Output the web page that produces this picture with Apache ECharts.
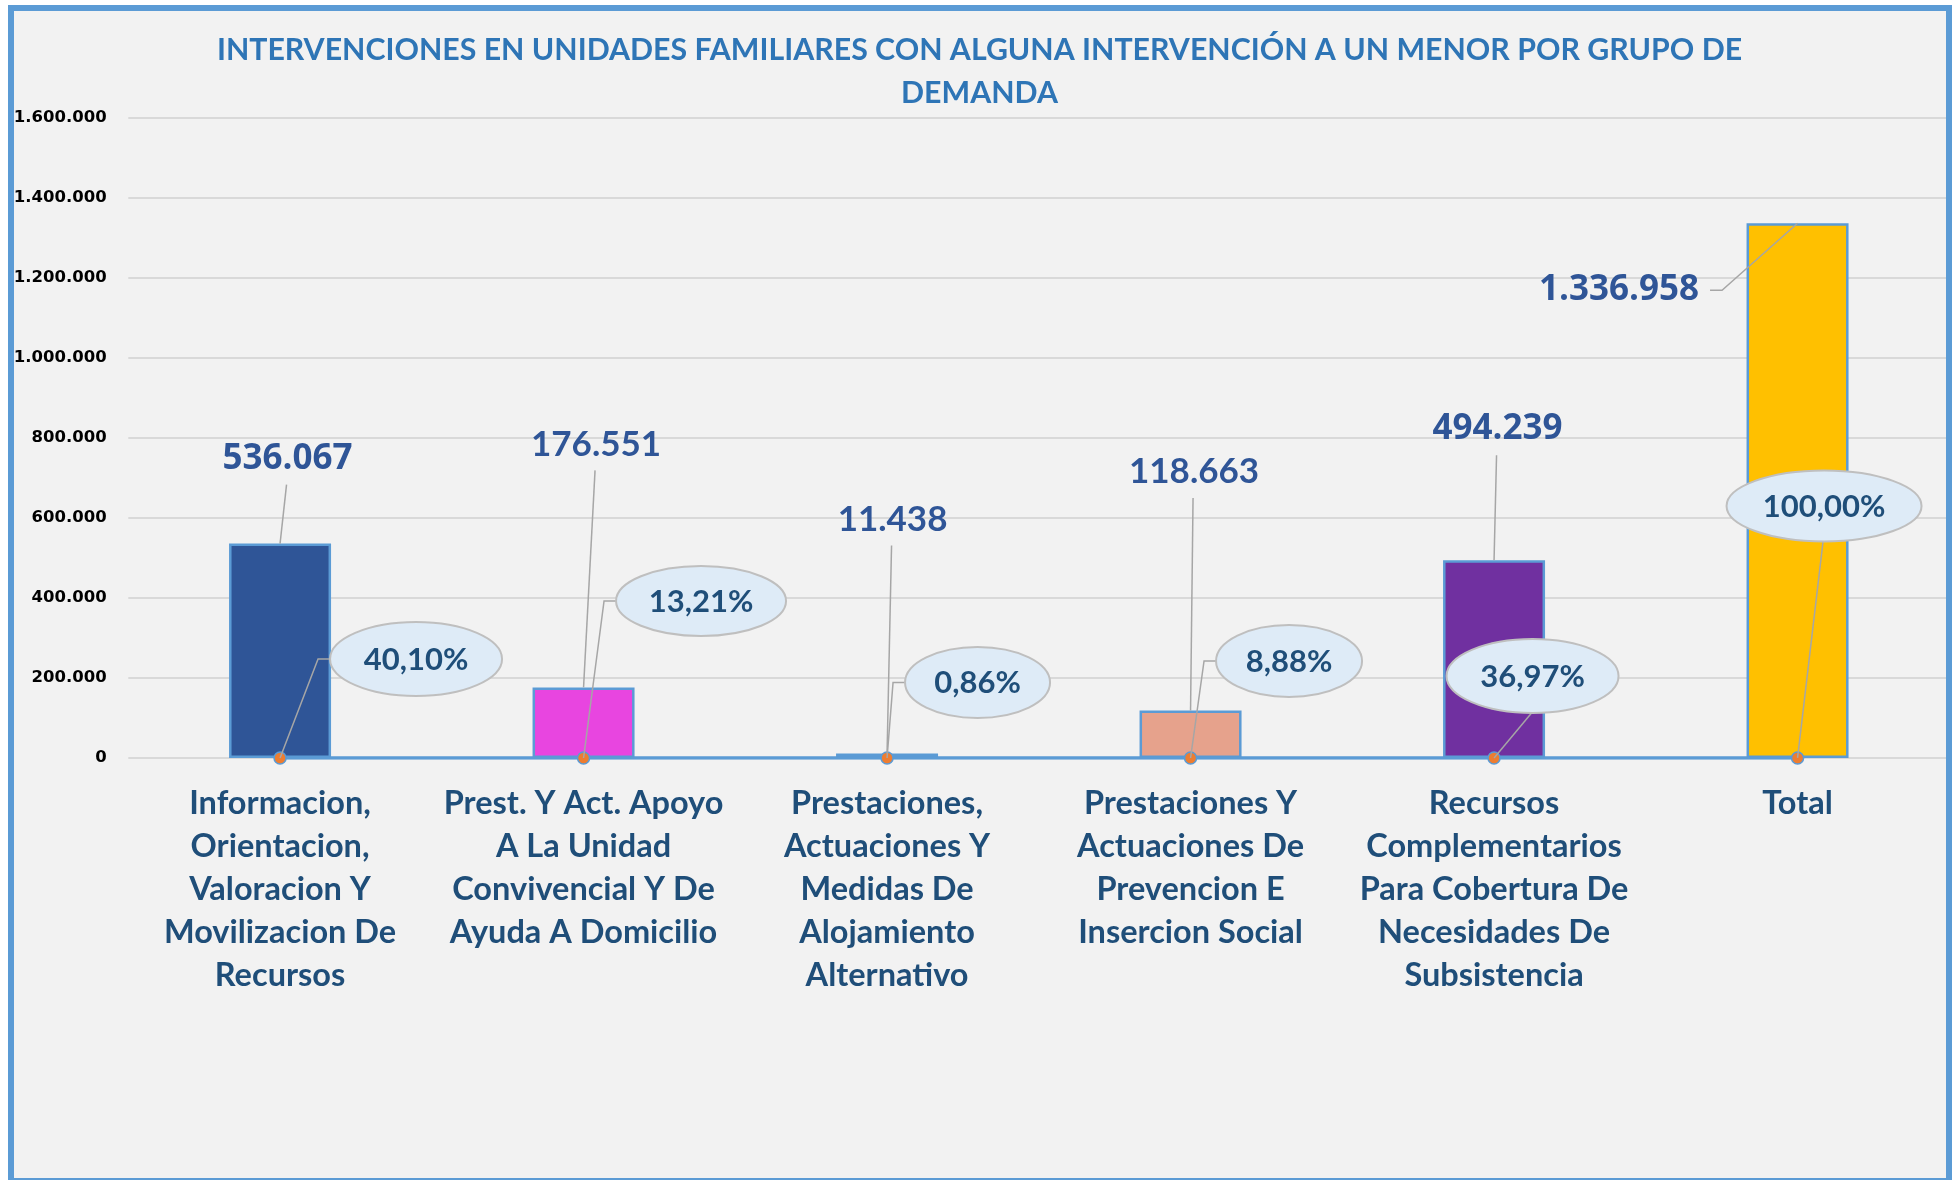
<!DOCTYPE html>
<html>
<head>
<meta charset="utf-8">
<script src="https://cdn.jsdelivr.net/npm/echarts@6/dist/echarts.min.js"></script>
<style>
html,body{margin:0;padding:0;background:#ffffff;width:1959px;height:1180px;overflow:hidden;}
#bg{position:absolute;left:8px;top:5px;width:1944px;height:1175px;background:#F2F2F2;}
#chart{position:absolute;left:0;top:0;width:1959px;height:1180px;}
#frame{position:absolute;left:8px;top:5px;width:1944px;height:1175px;box-sizing:border-box;border:6px solid #5B9BD5;border-bottom-width:2px;pointer-events:none;}
</style>
</head>
<body>
<div id="bg"></div>
<div id="chart"></div>
<div id="frame"></div>
<script>
// ---- data ----
const titleText = 'INTERVENCIONES EN UNIDADES FAMILIARES CON ALGUNA INTERVENCIÓN A UN MENOR POR GRUPO DE\nDEMANDA';
const categories = [
  'Informacion,\nOrientacion,\nValoracion Y\nMovilizacion De\nRecursos',
  'Prest. Y Act. Apoyo\nA La Unidad\nConvivencial Y De\nAyuda A Domicilio',
  'Prestaciones,\nActuaciones Y\nMedidas De\nAlojamiento\nAlternativo',
  'Prestaciones Y\nActuaciones De\nPrevencion E\nInsercion Social',
  'Recursos\nComplementarios\nPara Cobertura De\nNecesidades De\nSubsistencia',
  'Total'
];
const values = [536067, 176551, 11438, 118663, 494239, 1336958];
const percentages = [40.10, 13.21, 0.86, 8.88, 36.97, 100.00];
const yMin = 0, yMax = 1600000, yStep = 200000;

// ---- styles / layout ----
const barColors = ['#2F5597', '#E845E0', '#5AAA8C', '#E6A28C', '#7030A0', '#FFC000'];
// value label offsets relative to bar top
const valueLabelLayout = [
  {dx: 7.5, dy: -85, font: 'Open Sans', lead: 'down'},
  {dx: 12.5, dy: -243, font: 'Lato', lead: 'down'},
  {dx: 5.5, dy: -234, font: 'Lato', lead: 'down'},
  {dx: 3.5, dy: -238.5, font: 'Lato', lead: 'down'},
  {dx: 3.5, dy: -131, font: 'Open Sans', lead: 'down'},
  {dx: -178.5, dy: 67, font: 'Open Sans', lead: 'side'}
];
// percentage bubble offsets relative to the line marker
const bubbleLayout = [
  {dx: 136, dy: -99, w: 172, h: 74, lead: 'elbow'},
  {dx: 117.5, dy: -157, w: 170, h: 70, lead: 'elbow'},
  {dx: 90.5, dy: -75.5, w: 145, h: 71, lead: 'elbow'},
  {dx: 98.5, dy: -97, w: 146, h: 72, lead: 'elbow'},
  {dx: 38.5, dy: -82, w: 172, h: 74, lead: 'bottom'},
  {dx: 26.5, dy: -252, w: 195, h: 71, lead: 'bottom'}
];

function fmtThousands(v) {
  return String(Math.round(v)).replace(/\B(?=(\d{3})+(?!\d))/g, '.');
}
function fmtPct(p) {
  return p.toFixed(2).replace('.', ',') + '%';
}

const chart = echarts.init(document.getElementById('chart'), null, {renderer: 'canvas'});

const option = {
  backgroundColor: 'transparent',
  animation: false,
  title: {
    text: titleText,
    left: 'center',
    top: 24,
    textStyle: {
      fontFamily: 'Lato',
      fontWeight: 'bold',
      fontSize: 30.3,
      lineHeight: 42.5,
      color: '#2E75B6'
    }
  },
  grid: {left: 128.3, right: 9.7, top: 118, bottom: 422, containLabel: false},
  xAxis: {
    type: 'category',
    data: categories,
    axisLine: {show: false},
    axisTick: {show: false},
    axisLabel: {
      interval: 0,
      margin: 24,
      fontFamily: 'Lato',
      fontWeight: 'bold',
      fontSize: 32.5,
      lineHeight: 43,
      color: '#1F4E79',
      verticalAlign: 'top'
    }
  },
  yAxis: {
    type: 'value',
    min: yMin,
    max: yMax,
    interval: yStep,
    axisLine: {show: false},
    axisTick: {show: false},
    splitLine: {lineStyle: {color: '#D9D9D9', width: 2}},
    axisLabel: {
      margin: 21.6,
      fontFamily: 'DejaVu Sans',
      fontWeight: 'bold',
      fontSize: 16.5,
      color: '#000000',
      formatter: v => fmtThousands(v)
    }
  },
  series: [
    {
      type: 'bar',
      z: 2,
      barWidth: 102,
      data: values.map((v, i) => ({
        value: v,
        itemStyle: {color: barColors[i], borderColor: '#5B9BD5', borderWidth: 2.5}
      }))
    },
    {
      type: 'line',
      z: 3,
      data: percentages,
      symbol: 'circle',
      symbolSize: 12,
      lineStyle: {color: '#5B9BD5', width: 3.5},
      itemStyle: {color: '#ED7D31', borderColor: '#5B9BD5', borderWidth: 1.5}
    },
    {
      type: 'custom',
      z: 4,
      clip: false,
      data: values.map((v, i) => [i, v]),
      encode: {x: 0, y: 1},
      renderItem: function (params, api) {
        const i = api.value(0);
        const v = api.value(1);
        const p = api.coord([i, v]);
        const L = valueLabelLayout[i];
        const tx = p[0] + L.dx, ty = p[1] + L.dy;
        let pts;
        if (L.lead === 'down') {
          pts = [[tx - 1, ty + 26], [p[0], p[1]]];
        } else {
          pts = [[tx + 91, ty], [tx + 103, ty], [p[0], p[1]]];
        }
        return {
          type: 'group',
          children: [
            {type: 'polyline', shape: {points: pts}, style: {stroke: '#A6A6A6', lineWidth: 1.5, fill: null}},
            {type: 'text', style: {
              text: fmtThousands(v), x: tx, y: ty, align: 'center', verticalAlign: 'middle',
              fontFamily: L.font, fontWeight: 'bold', fontSize: 35, fill: '#2F5597'
            }}
          ]
        };
      }
    },
    {
      type: 'custom',
      z: 5,
      clip: false,
      data: percentages.map((p, i) => [i, p]),
      encode: {x: 0, y: 1},
      renderItem: function (params, api) {
        const i = api.value(0);
        const pv = api.value(1);
        const p = api.coord([i, pv]);
        const B = bubbleLayout[i];
        const cx = p[0] + B.dx, cy = p[1] + B.dy;
        let pts;
        if (B.lead === 'elbow') {
          const left = cx - B.w / 2;
          pts = [[p[0], p[1]], [left - 12, cy], [left, cy]];
        } else {
          pts = [[p[0], p[1]], [cx - 1, cy + B.h / 2]];
        }
        return {
          type: 'group',
          children: [
            {type: 'polyline', shape: {points: pts}, style: {stroke: '#A6A6A6', lineWidth: 1.5, fill: null}},
            {type: 'ellipse', shape: {cx: cx, cy: cy, rx: B.w / 2, ry: B.h / 2},
              style: {fill: '#DEEBF7', stroke: '#BFBFBF', lineWidth: 2}},
            {type: 'text', style: {
              text: fmtPct(pv), x: cx, y: cy + 1, align: 'center', verticalAlign: 'middle',
              fontFamily: 'Lato', fontWeight: 'bold', fontSize: 31, fill: '#1F4E79'
            }}
          ]
        };
      }
    }
  ]
};
chart.setOption(option);
</script>
</body>
</html>
